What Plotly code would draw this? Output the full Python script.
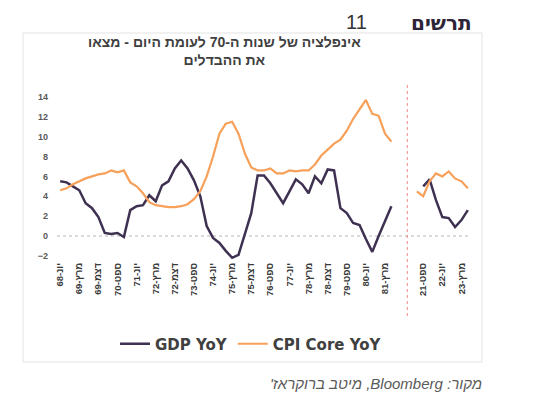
import plotly.graph_objects as go

# ---------------- data ----------------
HEB_MONTHS = {3: "מרץ", 6: "יונ", 9: "ספט", 12: "דצמ"}


def quarter_labels(year, month, n):
    out = []
    for _ in range(n):
        out.append(f"{HEB_MONTHS[month]}-{year % 100:02d}")
        month += 3
        if month > 12:
            month -= 12
            year += 1
    return out


left_categories = quarter_labels(1968, 6, 53)   # Jun-68 .. Jun-81
right_categories = quarter_labels(2021, 6, 9)   # Jun-21 .. Jun-23
gap_categories = 3

gdp_left = [5.5, 5.4, 5.0, 4.6, 3.3, 2.8, 1.9, 0.3, 0.2, 0.3,
            -0.1, 2.6, 3.0, 3.1, 4.1, 3.5, 5.1, 5.5, 6.8, 7.6,
            6.8, 5.6, 4.0, 1.0, -0.2, -0.7, -1.5, -2.2, -1.9, 0.2,
            2.3, 6.1, 6.1, 5.3, 4.3, 3.3, 4.5, 5.7, 5.2, 4.3,
            6.0, 5.3, 6.7, 6.6, 2.8, 2.3, 1.3, 1.1, -0.3, -1.6,
            0.0, 1.5, 3.0]
cpi_left = [4.6, 4.8, 5.2, 5.5, 5.8, 6.0, 6.2, 6.3, 6.6, 6.4,
            6.6, 5.4, 5.0, 4.3, 3.4, 3.1, 3.0, 2.9, 2.9, 3.0,
            3.2, 3.7, 4.5, 6.0, 8.0, 10.3, 11.3, 11.5, 10.3, 8.3,
            6.9, 6.6, 6.6, 6.8, 6.3, 6.3, 6.6, 6.5, 6.6, 6.6,
            7.2, 8.1, 8.7, 9.3, 9.7, 10.6, 11.8, 12.8, 13.7, 12.3,
            12.1, 10.3, 9.5]
gdp_right = [None, 5.0, 5.7, 3.6, 1.9, 1.8, 0.9, 1.6, 2.6]
cpi_right = [4.5, 4.0, 5.5, 6.3, 6.0, 6.5, 5.8, 5.5, 4.8]

y_ticks = [-2, 0, 2, 4, 6, 8, 10, 12, 14]

series_names = ["GDP YoY", "CPI Core YoY"]

title_lines = ["אינפלציה של שנות ה-70 לעומת היום - מצאו", "את ההבדלים"]
figure_word = "תרשים"
figure_number = "11"
source_text = "מקור: Bloomberg, מיטב ברוקראז'"

# ---------------- build ----------------
categories = left_categories + [""] * gap_categories + right_categories
x = list(range(len(categories)))
gdp = gdp_left + [None] * gap_categories + gdp_right
cpi = cpi_left + [None] * gap_categories + cpi_right
tickvals = [i for i in x if i % 3 == 0 and categories[i]]
ticktext = [categories[i] for i in tickvals]
sep_x = len(left_categories) + gap_categories / 2

RLE, PDF = "\u202b", "\u202c"


def rtl(s):
    return RLE + s + PDF


OFF = 8  # page body margin
W, H = 538 - OFF, 399 - OFF
ML, MR, MT, MB = 49, 67, 83, 139
PW, PH = W - ML - MR, H - MT - MB


def px_x(px):  # screen px -> paper
    return (px - OFF - ML) / PW


def px_y(py):
    return (H - MB - (py - OFF)) / PH


GDP_COLOR = "#3F3151"
CPI_COLOR = "#F7A05A"
TXT = "#404040"

fig = go.Figure()
fig.add_trace(go.Scatter(x=x, y=gdp, mode="lines", name=series_names[0],
                         line=dict(color=GDP_COLOR, width=2.5), connectgaps=False))
fig.add_trace(go.Scatter(x=x, y=cpi, mode="lines", name=series_names[1],
                         line=dict(color=CPI_COLOR, width=2.2), connectgaps=False))

fig.update_layout(
    width=W, height=H,
    margin=dict(l=ML, r=MR, t=MT, b=MB, pad=0),
    paper_bgcolor="white", plot_bgcolor="white",
    font=dict(family="Liberation Sans, Arial, sans-serif", color=TXT),
    showlegend=True,
    legend=dict(orientation="h", xref="container", yref="container",
                x=(115 - OFF) / W, y=1 - (344 - OFF) / H,
                xanchor="left", yanchor="middle",
                font=dict(family="DejaVu Sans, Verdana, sans-serif", size=15,
                          color=TXT, weight="bold"),
                bgcolor="rgba(0,0,0,0)", itemwidth=30, tracegroupgap=0),
    xaxis=dict(range=[-0.5, len(categories) - 0.5], tickmode="array",
               tickvals=tickvals, ticktext=ticktext, tickangle=-90,
               tickfont=dict(size=9.5, color="#3A3A3A", weight="bold",
                             family="Liberation Sans, Arial, sans-serif"),
               showgrid=False, zeroline=False, showline=False, ticks=""),
    yaxis=dict(range=[-2.42, 14.6], tickmode="array", tickvals=y_ticks,
               tickfont=dict(size=9, color="#595959", weight="bold"),
               showgrid=False, zeroline=False, showline=False, ticks="",
               ticklabelstandoff=8),
)

# zero gridline (dotted)
fig.add_shape(type="line", xref="paper", yref="y", x0=0, x1=1, y0=0, y1=0,
              line=dict(color="#D0D0D0", width=1.5, dash="dot"), layer="below")
# separator between periods
fig.add_shape(type="line", xref="x", yref="paper", x0=sep_x, x1=sep_x,
              y0=px_y(316), y1=px_y(82),
              line=dict(color="#F08A8A", width=1, dash="dot"))
# chart frame
fig.add_shape(type="rect", xref="paper", yref="paper",
              x0=px_x(23), x1=px_x(482), y0=px_y(362), y1=px_y(33),
              line=dict(color="#E3E3E3", width=1), fillcolor="rgba(0,0,0,0)",
              layer="below")

# titles and source
fig.add_annotation(text=rtl(figure_word), xref="paper", yref="paper",
                   x=px_x(474), y=px_y(8.5), xanchor="right", yanchor="top",
                   showarrow=False,
                   font=dict(size=20, color="#2E2438", weight="bold",
                             family="DejaVu Sans, sans-serif"))
fig.add_annotation(text=figure_number, xref="paper", yref="paper",
                   x=px_x(369), y=px_y(8.5), xanchor="right", yanchor="top",
                   showarrow=False, font=dict(size=20, color="#333333"))
fig.add_annotation(text="<br>".join(rtl(s) for s in title_lines),
                   xref="paper", yref="paper",
                   x=px_x(224), y=px_y(50.5), xanchor="center", yanchor="middle",
                   showarrow=False, align="center",
                   font=dict(size=14, color=TXT, weight="bold"))
fig.add_annotation(text=rtl(source_text), xref="paper", yref="paper",
                   x=px_x(484), y=px_y(383), xanchor="right", yanchor="middle",
                   showarrow=False,
                   font=dict(size=15, color="#595959", style="italic"))

fig.write_html("out.html")
